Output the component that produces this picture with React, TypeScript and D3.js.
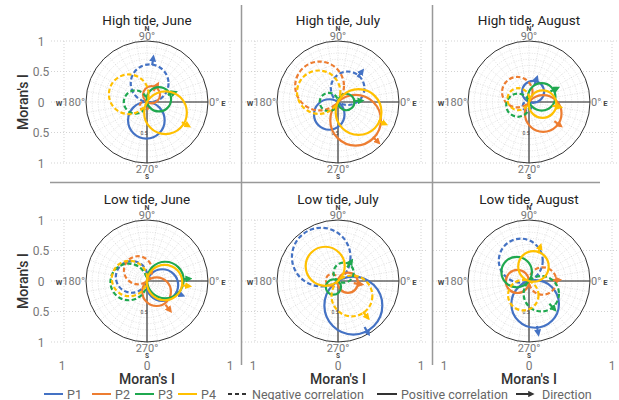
import React from "react";
import * as d3 from "d3";

const W = 619;
const H = 400;

const series = ["P1", "P2", "P3", "P4"];
const colors = ["#4472C4", "#ED7D31", "#1FA84F", "#FFC000"];
const titles = [
  "High tide, June",
  "High tide, July",
  "High tide, August",
  "Low tide, June",
  "Low tide, July",
  "Low tide, August",
];
const yTicks = [1, 0.5, 0, -0.5, -1];
const xTicks = [-1, 0, 1];

// per series P1..P4: [posDir, posI, negDir, negI, arrowDir, arrowI]
const highJune = [
  [268, 0.6, 82, 0.62, 82, 0.74],
  [58, 0.28, 235, 0.15, 59, 0.34],
  [13, 0.4, 180, 0.38, 19, 0.49],
  [330, 0.7, 157, 0.65, 330, 0.79],
];
const highJuly = [
  [235, 0.5, 55, 0.55, 52, 0.65],
  [314, 0.83, 139, 0.8, 315, 0.94],
  [0, 0.27, 180, 0.3, 3, 0.39],
  [334, 0.75, 153, 0.71, 335, 0.86],
];
const highAugust = [
  [68, 0.36, 245, 0.15, 72, 0.42],
  [321, 0.6, 140, 0.5, 323, 0.65],
  [22, 0.45, 196, 0.38, 26, 0.52],
  [351, 0.45, 165, 0.36, 351, 0.52],
];
const lowJune = [
  [345, 0.52, 165, 0.52, 338, 0.63],
  [312, 0.47, 130, 0.46, 308, 0.62],
  [3, 0.6, 183, 0.6, 3, 0.7],
  [355, 0.58, 172, 0.58, 353, 0.7],
];
const lowJuly = [
  [302, 0.95, 125, 0.96, 300, 1.0],
  [350, 0.33, 172, 0.2, 352, 0.39],
  [233, 0.25, 56, 0.33, 56, 0.4],
  [131, 0.64, 313, 0.67, 309, 0.78],
];
const lowAugust = [
  [285, 0.78, 112, 0.72, 280, 0.88],
  [182, 0.38, 0, 0.45, 2, 0.5],
  [144, 0.5, 314, 0.58, 312, 0.63],
  [73, 0.5, 248, 0.5, 72, 0.61],
];
const panels = [highJune, highJuly, highAugust, lowJune, lowJuly, lowAugust];

const colX = [147, 338, 529];
const rowY = [102, 281];
const R = 61;
const FONT = "Roboto, 'Noto Sans', sans-serif";

const rad = (deg: number) => (deg * Math.PI) / 180;

function Panel({ idx }: { idx: number }) {
  const cx = colX[idx % 3];
  const cy = rowY[Math.floor(idx / 3)];
  const first = idx % 3 === 0;
  const bottom = idx >= 3;
  const data = panels[idx];

  const x = d3.scaleLinear().domain([-1, 1]).range([cx - 83, cx + 83]);
  const y = d3.scaleLinear().domain([-1, 1]).range([cy + R, cy - R]);
  const r = d3.scaleLinear().domain([0, 1]).range([0, R]);
  const pt = (v: number, deg: number): [number, number] => [
    cx + r(v) * Math.cos(rad(deg)),
    cy - r(v) * Math.sin(rad(deg)),
  ];

  const rings = d3.range(0.1, 0.95, 0.1);
  const spokes = d3.range(0, 360, 10);

  return (
    <g>
      {/* cartesian grid */}
      {yTicks.map((t) => (
        <line key={"h" + t} x1={cx - 96} x2={cx + 90} y1={y(t)} y2={y(t)}
          stroke="#c8c8c8" strokeWidth={0.8} strokeDasharray="1,2" />
      ))}
      {[-1, 1].map((t) => (
        <line key={"v" + t} x1={x(t)} x2={x(t)} y1={y(1)} y2={y(-1)}
          stroke="#c8c8c8" strokeWidth={0.8} strokeDasharray="1,2" />
      ))}
      <text x={cx} y={cy - 77} textAnchor="middle" fontSize={13.5} fill="#222">
        {titles[idx]}
      </text>
      {first &&
        yTicks.map((t) => (
          <text key={"yt" + t} x={41} y={y(t) + 4.5} textAnchor="middle" fontSize={12} fill="#777">
            {Math.abs(t)}
          </text>
        ))}
      {first && (
        <text transform={`translate(28,${cy}) rotate(-90)`} textAnchor="middle" fontSize={14}
          fill="#333" fontWeight={500}>
          Moran's I
        </text>
      )}
      {bottom &&
        xTicks.map((t) => (
          <text key={"xt" + t} x={x(t) + (t < 0 ? -2 : 0)} y={370} textAnchor="middle" fontSize={12} fill="#777">
            {Math.abs(t)}
          </text>
        ))}
      {bottom && (
        <text x={cx} y={384} textAnchor="middle" fontSize={14} fill="#333" fontWeight={500}>
          Moran's I
        </text>
      )}

      {/* polar disk */}
      <circle cx={cx} cy={cy} r={R} fill="#fff" />
      {rings.map((v) => (
        <circle key={"r" + v} cx={cx} cy={cy} r={r(v)} fill="none" stroke="#cfcfcf"
          strokeWidth={0.6} strokeDasharray="1,1.5" />
      ))}
      {spokes.map((a) => {
        const [x0, y0] = pt(0.1, a);
        const [x1, y1] = pt(1, a);
        return (
          <line key={"s" + a} x1={x0} y1={y0} x2={x1} y2={y1} stroke="#cfcfcf"
            strokeWidth={0.6} strokeDasharray="1,1.5" />
        );
      })}
      <line x1={cx} y1={cy} x2={pt(1, 0)[0]} y2={cy} stroke="#666" strokeWidth={1.6} />
      <line x1={cx} y1={cy} x2={cx} y2={pt(1, 270)[1]} stroke="#666" strokeWidth={1.6} />
      <circle cx={cx} cy={cy} r={R} fill="none" stroke="#333" strokeWidth={1} />
      <text x={cx - 3} y={pt(0.5, 270)[1] + 2} textAnchor="middle" fontSize={5} fill="#444">0.5</text>

      <text x={cx} y={cy - R - 1} textAnchor="middle" fontSize={11} fill="#777">90°</text>
      <text x={cx} y={cy - R - 10} textAnchor="middle" fontSize={7} fontWeight={700} fill="#444">N</text>
      <text x={cx} y={cy + R + 10} textAnchor="middle" fontSize={11} fill="#777">270°</text>
      <text x={cx} y={cy + R + 16} textAnchor="middle" fontSize={6.5} fontWeight={700} fill="#444">S</text>
      <text x={cx - R - 1} y={cy + 4} textAnchor="end" fontSize={11} fill="#777">
        <tspan fontSize={7.5} fontWeight={700} fill="#444">W</tspan>
        <tspan>180°</tspan>
      </text>
      <text x={cx + R + 1} y={cy + 4} textAnchor="start" fontSize={11} fill="#777">
        <tspan>0°</tspan>
        <tspan dx={2} fontSize={7.5} fontWeight={700} fill="#444">E</tspan>
      </text>

      {/* lobes */}
      {data.map((d, si) => {
        const [pd, pi, nd, ni, ad, ai] = d;
        const pc = pt(pi / 2, pd);
        const nc = pt(ni / 2, nd);
        const [ax0, ay0] = pt(ai - 0.13, ad);
        const [ax1, ay1] = pt(ai, ad);
        return (
          <g key={series[si]}>
            <circle cx={nc[0]} cy={nc[1]} r={r(ni / 2)} fill="none" stroke={colors[si]}
              strokeWidth={2.2} strokeDasharray="4.5,2.5" />
            <circle cx={pc[0]} cy={pc[1]} r={r(pi / 2)} fill="none" stroke={colors[si]} strokeWidth={2.2} />
            <line x1={ax0} y1={ay0} x2={ax1} y2={ay1} stroke={colors[si]} strokeWidth={2.2}
              markerEnd={`url(#head${si})`} />
          </g>
        );
      })}
    </g>
  );
}

function Legend() {
  const y = 394;
  const items = [
    { x: 44, t: "P1" },
    { x: 92, t: "P2" },
    { x: 135, t: "P3" },
    { x: 178, t: "P4" },
  ];
  return (
    <g fontSize={12.5} fill="#666">
      {items.map((it, i) => (
        <g key={it.t}>
          <line x1={it.x} x2={it.x + 19} y1={y} y2={y} stroke={colors[i]} strokeWidth={2} />
          <text x={it.x + 23} y={y + 4.5}>{it.t}</text>
        </g>
      ))}
      <line x1={228} x2={248} y1={y} y2={y} stroke="#333" strokeWidth={2} strokeDasharray="4,3" />
      <text x={252} y={y + 4.5}>Negative correlation</text>
      <line x1={377} x2={397} y1={y} y2={y} stroke="#333" strokeWidth={2} />
      <text x={401} y={y + 4.5}>Positive correlation</text>
      <line x1={516} x2={532} y1={y} y2={y} stroke="#333" strokeWidth={2} markerEnd="url(#headK)" />
      <text x={542} y={y + 4.5}>Direction</text>
    </g>
  );
}

export default function App() {
  return (
    <svg width={W} height={H} style={{ position: "absolute", left: 0, top: 0, background: "#fff" }}
      fontFamily={FONT}>
      <defs>
        {colors.concat(["#333"]).map((c, i) => (
          <marker key={i} id={i < 4 ? `head${i}` : "headK"} viewBox="0 0 10 10" refX={6} refY={5}
            markerWidth={3.2} markerHeight={3.2} orient="auto">
            <path d="M0,0 L10,5 L0,10 z" fill={c} />
          </marker>
        ))}
      </defs>
      <rect width={W} height={H} fill="#fff" />
      <line x1={241.5} x2={241.5} y1={5} y2={365} stroke="#999" strokeWidth={1.5} />
      <line x1={432.5} x2={432.5} y1={5} y2={365} stroke="#999" strokeWidth={1.5} />
      <line x1={50} x2={600} y1={182.5} y2={182.5} stroke="#999" strokeWidth={1.5} />
      {panels.map((_, i) => (
        <Panel key={i} idx={i} />
      ))}
      <Legend />
    </svg>
  );
}
